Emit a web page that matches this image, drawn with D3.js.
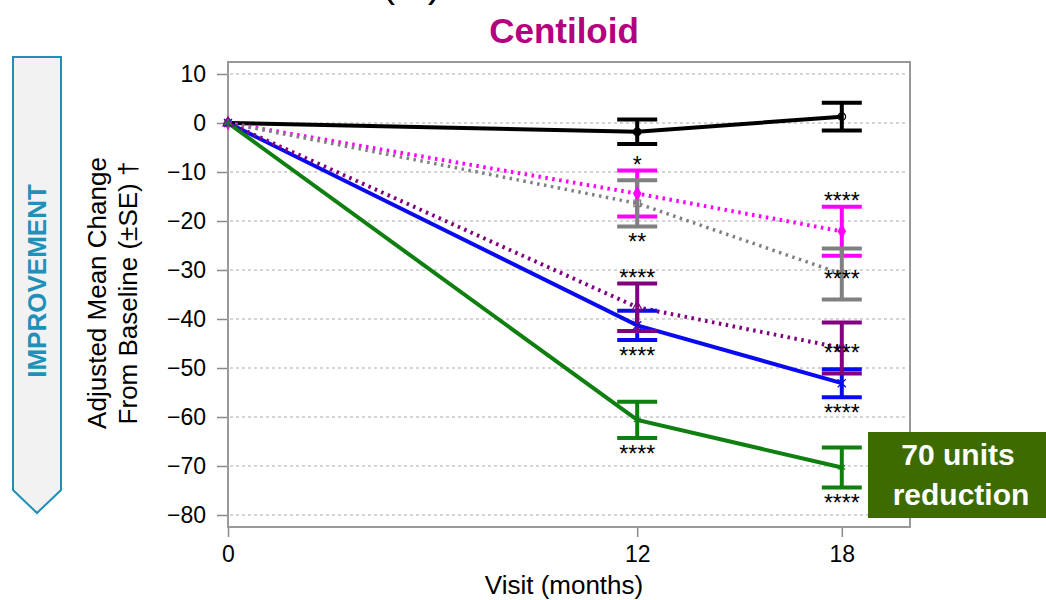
<!DOCTYPE html>
<html>
<head>
<meta charset="utf-8">
<script src="https://cdn.jsdelivr.net/npm/d3@7"></script>
<style>
  body { margin: 0; background: #fff; }
  text { font-family: "Liberation Sans", Arial, sans-serif; }
</style>
</head>
<body>
<div id="chart"></div>
<script>
var width = 1046,
    height = 600

// data
var months = [0, 12, 18]
var yTicks = [10, 0, -10, -20, -30, -40, -50, -60, -70, -80]

var placebo = [0, -1.8, 1.3]
var placeboSE = [0, 2.5, 2.85]
var armMagenta = [0, -14.4, -22.1]
var armMagentaSE = [0, 4.7, 5.0]
var armGray = [0, -16.4, -30.8]
var armGraySE = [0, 4.7, 5.2]
var armPurple = [0, -37.6, -45.9]
var armPurpleSE = [0, 4.85, 5.2]
var armBlue = [0, -41.3, -53.1]
var armBlueSE = [0, 3.0, 2.85]
var armGreen = [0, -60.6, -70.3]
var armGreenSE = [0, 3.7, 4.1]

// significance marks at each visit
var starsMagenta = ['', '*', '****']
var starsGray = ['', '**', '****']
var starsPurple = ['', '****', '****']
var starsBlue = ['', '****', '****']
var starsGreen = ['', '****', '****']

var series = [
    { vals: placebo, se: placeboSE, color: '#000000', dash: null, w: 4, sym: ['circle', 'circle', 'ring'], stars: ['', '', ''], pos: ['', '', ''] },
    { vals: armMagenta, se: armMagentaSE, color: '#ff00ff', dash: '2.5,4.5', w: 4, sym: ['diamond', 'diamond', 'diamond'], stars: starsMagenta, pos: ['', 'above', 'above'] },
    { vals: armGray, se: armGraySE, color: '#808080', dash: '2.5,4.5', w: 3.5, sym: ['square', 'square', 'square'], stars: starsGray, pos: ['', 'below', 'mean'] },
    { vals: armBlue, se: armBlueSE, color: '#0a0af0', dash: null, w: 4, sym: ['x', 'x', 'x'], stars: starsBlue, pos: ['', 'below', 'below'] },
    { vals: armPurple, se: armPurpleSE, color: '#800080', dash: '2.5,4.5', w: 4, sym: ['tri', 'tri', 'tri'], stars: starsPurple, pos: ['', 'above', 'mean'] },
    { vals: armGreen, se: armGreenSE, color: '#0f7f0f', dash: null, w: 4, sym: ['star', 'star', 'star'], stars: starsGreen, pos: ['', 'below', 'below'] }
]

var svg = d3.select('#chart')
    .append('svg')
    .attr('width', width)
    .attr('height', height)

// plot box
var plotLeft = 228, plotRight = 910, plotTop = 62, plotBottom = 527

var x = d3.scaleLinear()
    .domain([0, 20])
    .range([plotLeft, plotRight])

var y = d3.scaleLinear()
    .domain([-82.45, 12.45])
    .range([plotBottom, plotTop])

// title bits
svg.append('text')
    .attr('x', 413)
    .attr('y', -3)
    .attr('text-anchor', 'middle')
    .style('font-size', '40px')
    .style('letter-spacing', '3px')
    .text('(B)')

svg.append('text')
    .attr('x', 564)
    .attr('y', 43)
    .attr('text-anchor', 'middle')
    .style('font-size', '35px')
    .style('font-weight', 'bold')
    .attr('fill', '#b4007e')
    .text('Centiloid')

// improvement arrow
svg.append('path')
    .attr('d', 'M13,57 L61,57 L61,490 L37,513 L13,490 Z')
    .attr('fill', '#f2f2f2')
    .attr('stroke', '#1f8fba')
    .attr('stroke-width', 2)
svg.append('text')
    .attr('transform', 'translate(37,281) rotate(-90)')
    .attr('text-anchor', 'middle')
    .attr('dominant-baseline', 'central')
    .style('font-size', '26px')
    .style('font-weight', 'bold')
    .attr('fill', '#2190b9')
    .text('IMPROVEMENT')

// gridlines
svg.append('g')
    .selectAll('line')
    .data(yTicks)
    .enter()
    .append('line')
    .attr('x1', plotLeft + 2)
    .attr('x2', plotRight - 2)
    .attr('y1', d => y(d))
    .attr('y2', d => y(d))
    .attr('stroke', '#c8c8c8')
    .attr('stroke-width', 1.5)
    .attr('stroke-dasharray', '3,3')

// axes
var yaxis = d3.axisLeft(y)
    .tickValues(yTicks)
    .tickSize(11)
    .tickPadding(11)
svg.append('g')
    .attr('transform', 'translate(' + plotLeft + ',0)')
    .call(yaxis)
    .attr('font-size', 23)
    .attr('font-family', '"Liberation Sans", Arial, sans-serif')
    .call(g => g.select('.domain').remove())
    .call(g => g.selectAll('line').attr('stroke', '#8a8a8a').attr('stroke-width', 1.5))
    .call(g => g.selectAll('text').attr('fill', '#000'))

var xaxis = d3.axisBottom(x)
    .tickValues(months)
    .tickSize(10)
    .tickPadding(9)
svg.append('g')
    .attr('transform', 'translate(0,' + plotBottom + ')')
    .call(xaxis)
    .attr('font-size', 23)
    .attr('font-family', '"Liberation Sans", Arial, sans-serif')
    .call(g => g.select('.domain').remove())
    .call(g => g.selectAll('line').attr('stroke', '#8a8a8a').attr('stroke-width', 1.5))
    .call(g => g.selectAll('text').attr('fill', '#000'))

// frame
svg.append('rect')
    .attr('x', plotLeft)
    .attr('y', plotTop)
    .attr('width', plotRight - plotLeft)
    .attr('height', plotBottom - plotTop)
    .attr('fill', 'none')
    .attr('stroke', '#999')
    .attr('stroke-width', 2)

// axis titles
svg.append('text')
    .attr('x', 564)
    .attr('y', 594)
    .attr('text-anchor', 'middle')
    .style('font-size', '26px')
    .text('Visit (months)')

svg.append('text')
    .attr('transform', 'translate(97,293) rotate(-90)')
    .attr('text-anchor', 'middle')
    .attr('dominant-baseline', 'central')
    .style('font-size', '26px')
    .text('Adjusted Mean Change')
svg.append('text')
    .attr('transform', 'translate(128,293) rotate(-90)')
    .attr('text-anchor', 'middle')
    .attr('dominant-baseline', 'central')
    .style('font-size', '26px')
    .text('From Baseline (±SE) †')

// lines
var line = d3.line()
    .x((d, i) => x(months[i]))
    .y(d => y(d))

svg.append('g')
    .selectAll('path')
    .data(series)
    .enter()
    .append('path')
    .attr('d', s => line(s.vals))
    .attr('fill', 'none')
    .attr('stroke', s => s.color)
    .attr('stroke-width', s => s.w)
    .attr('stroke-dasharray', s => s.dash)

// error bars
var capHalf = 20
series.forEach(s => {
    var g = svg.append('g')
        .attr('stroke', s.color)
        .attr('stroke-width', 4)
    s.vals.forEach((v, i) => {
        if (months[i] === 0) return
        var cx = x(months[i]),
            hi = y(v + s.se[i]),
            lo = y(v - s.se[i])
        g.append('line').attr('x1', cx).attr('x2', cx).attr('y1', hi).attr('y2', lo)
        g.append('line').attr('x1', cx - capHalf).attr('x2', cx + capHalf).attr('y1', hi).attr('y2', hi)
        g.append('line').attr('x1', cx - capHalf).attr('x2', cx + capHalf).attr('y1', lo).attr('y2', lo)
    })
})

// markers
var symbolTypes = {
    circle: d3.symbolCircle,
    ring: d3.symbolCircle,
    diamond: d3.symbolDiamond,
    square: d3.symbolSquare,
    x: d3.symbolX,
    tri: d3.symbolTriangle,
    star: d3.symbolAsterisk
}
series.forEach(s => {
    svg.append('g')
        .selectAll('path')
        .data(s.vals)
        .enter()
        .append('path')
        .attr('transform', (d, i) => 'translate(' + x(months[i]) + ',' + y(d) + ')')
        .attr('d', (d, i) => d3.symbol().type(symbolTypes[s.sym[i]]).size(45)())
        .attr('fill', (d, i) => (s.sym[i] === 'circle' || s.sym[i] === 'diamond') ? s.color : 'none')
        .attr('stroke', s.color)
        .attr('stroke-width', 1.2)
})

// significance stars
var starSize = 23
series.forEach(s => {
    s.vals.forEach((v, i) => {
        if (!s.stars[i]) return
        var cy
        if (s.pos[i] === 'above') cy = y(v + s.se[i]) - 11
        else if (s.pos[i] === 'below') cy = y(v - s.se[i]) + 10
        else cy = y(v)
        svg.append('text')
            .attr('x', x(months[i]))
            .attr('y', cy + starSize * 0.585)
            .attr('text-anchor', 'middle')
            .style('font-size', starSize + 'px')
            .attr('fill', '#000')
            .text(s.stars[i])
    })
})

// callout box
svg.append('rect')
    .attr('x', 868)
    .attr('y', 432)
    .attr('width', 178)
    .attr('height', 86)
    .attr('fill', '#3d6b00')
svg.append('text')
    .attr('x', 958)
    .attr('y', 465)
    .attr('text-anchor', 'middle')
    .style('font-size', '30px')
    .style('font-weight', 'bold')
    .attr('fill', '#fff')
    .text('70 units')
svg.append('text')
    .attr('x', 961)
    .attr('y', 505)
    .attr('text-anchor', 'middle')
    .style('font-size', '30px')
    .style('font-weight', 'bold')
    .attr('fill', '#fff')
    .text('reduction')
</script>
</body>
</html>
